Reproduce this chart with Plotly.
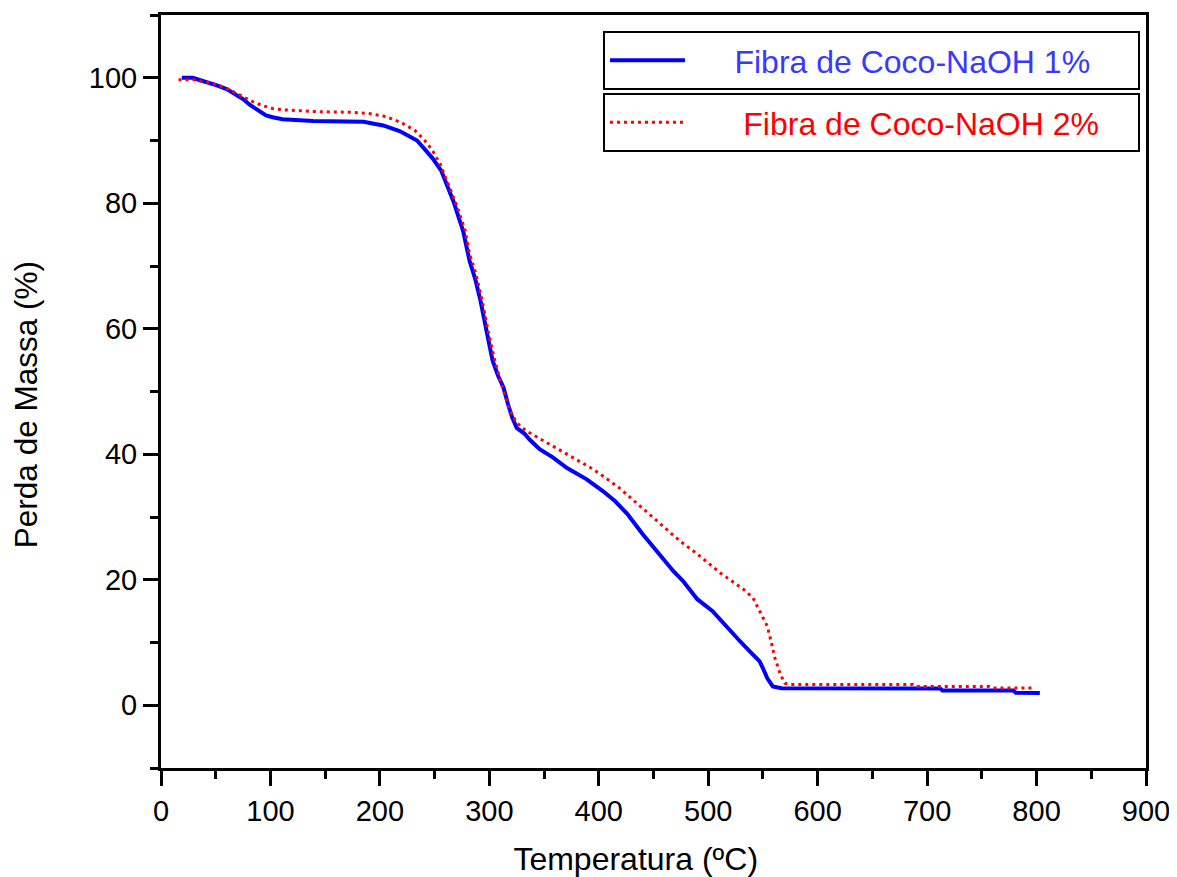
import plotly.graph_objects as go

# Fibra de Coco-NaOH 1%
temp_1 = [19, 29, 36, 45, 51, 60, 66, 75, 81, 90, 96, 102, 111, 139, 185, 203, 218, 234,
          248, 256, 262, 267, 276, 282, 287, 292, 298, 303, 308, 313, 317, 321, 325, 332,
          337, 346, 358, 371, 389, 404, 415, 426, 440, 450, 459, 468, 477, 490, 504, 513,
          523, 529, 538, 547, 551, 554, 559, 567, 712, 714, 779, 781, 803]
mass_1 = [100.0, 100.0, 99.6, 99.2, 98.8, 98.2, 97.5, 96.6, 95.7, 94.6, 94.0, 93.7, 93.4,
          93.1, 93.0, 92.4, 91.5, 90.0, 87.2, 85.2, 82.8, 80.4, 75.6, 70.8, 68.0, 64.4,
          59.2, 54.9, 52.5, 50.6, 48.0, 45.8, 44.2, 43.3, 42.3, 40.8, 39.5, 37.8, 36.0,
          34.1, 32.5, 30.5, 27.3, 25.2, 23.3, 21.4, 19.8, 16.9, 15.0, 13.2, 11.3, 10.2,
          8.6, 7.0, 5.5, 4.3, 3.0, 2.7, 2.66, 2.35, 2.34, 2.0, 1.97]

# Fibra de Coco-NaOH 2%
temp_2 = [16, 29, 40, 51, 60, 69, 78, 86, 94, 102, 111, 142, 173, 190, 203, 212, 221, 232,
          241, 248, 255, 264, 271, 278, 282, 287, 293, 299, 305, 312, 319, 325, 333, 342,
          358, 370, 383, 394, 404, 419, 438, 456, 474, 490, 511, 532, 541, 547, 554, 557,
          561, 566, 570, 575, 687, 690, 757, 760, 799]
mass_2 = [99.7, 99.7, 99.4, 98.9, 98.3, 97.5, 96.8, 96.0, 95.5, 95.1, 94.9, 94.6, 94.5,
          94.3, 93.9, 93.4, 92.7, 91.6, 90.0, 88.4, 86.3, 82.5, 79.3, 75.6, 71.9, 69.2,
          64.9, 59.6, 54.9, 50.6, 46.9, 45.0, 43.8, 42.9, 41.3, 40.1, 38.9, 37.7, 36.5,
          34.6, 31.7, 28.9, 26.2, 24.1, 21.1, 18.5, 17.1, 15.0, 12.6, 10.5, 7.5, 4.9, 3.5,
          3.3, 3.3, 3.0, 3.0, 2.76, 2.76]

name_1 = "Fibra de Coco-NaOH 1%"
name_2 = "Fibra de Coco-NaOH 2%"
x_title = "Temperatura (ºC)"
y_title = "Perda de Massa (%)"

FONT = "Liberation Sans, Arial, sans-serif"
NB = "\u00a0"
ZW = "\u200b"

fig = go.Figure()
fig.add_trace(go.Scatter(x=temp_1, y=mass_1, mode="lines", name=NB * 5 + name_1,
                         line=dict(color="#0000ff", width=4), legend="legend"))
fig.add_trace(go.Scatter(x=temp_2, y=mass_2, mode="lines", name=NB * 6 + name_2,
                         line=dict(color="#ff0000", width=3, dash="3px,4px"), legend="legend2"))

axis_common = dict(
    showline=True, linecolor="black", linewidth=3, mirror=True,
    ticks="outside", ticklen=15, tickwidth=3, tickcolor="black",
    showgrid=False, zeroline=False, automargin=False,
    tickfont=dict(family=FONT, size=29, color="black"),
)

fig.update_xaxes(range=[0, 900], tick0=0, dtick=100,
                 minor=dict(ticks="outside", ticklen=8, tickwidth=3, tickcolor="black", dtick=50),
                 title=dict(text=x_title + NB * 4 + ZW, font=dict(family=FONT, size=32, color="black"),
                            standoff=22),
                 **axis_common)
fig.update_yaxes(range=[-10, 110], tick0=0, dtick=20,
                 minor=dict(ticks="outside", ticklen=8, tickwidth=3, tickcolor="black", dtick=10, tick0=0),
                 title=dict(text=y_title + NB * 3 + ZW, font=dict(family=FONT, size=31.5, color="black"),
                            standoff=45),
                 **axis_common)

legend_common = dict(
    orientation="h", xanchor="left", yanchor="top",
    bordercolor="black", borderwidth=2, bgcolor="white",
    itemwidth=75, entrywidth=443, entrywidthmode="pixels",
)
# The page body adds an 8px margin, so the figure is 8px smaller and the
# left/top margins are 8px smaller to keep the plot area where it belongs.
fig.update_layout(
    width=1169, height=869,
    margin=dict(l=153, r=31, t=7, b=109, autoexpand=False),
    paper_bgcolor="white", plot_bgcolor="white",
    font=dict(family=FONT, size=29, color="black"),
    showlegend=True,
    legend=dict(x=0.4487, y=0.9788, font=dict(family=FONT, size=32, color="#3838ff"), **legend_common),
    legend2=dict(x=0.4487, y=0.8964, font=dict(family=FONT, size=32, color="#ff0000"), **legend_common),
)

fig.write_html("out.html")
